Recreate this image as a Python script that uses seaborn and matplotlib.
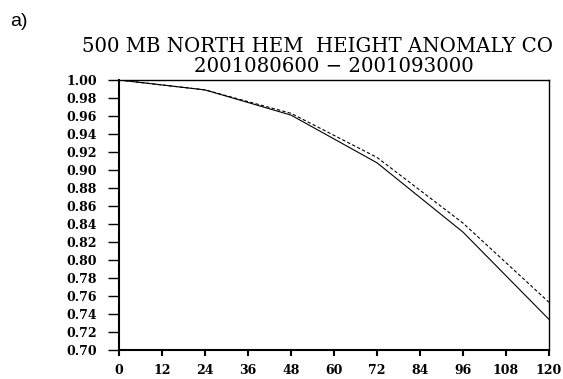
import pandas as pd
import matplotlib
matplotlib.use("Agg")
import matplotlib.pyplot as plt
import seaborn as sns

# forecast lead time (hours) and anomaly correlation values
lead_hours = [0, 24, 48, 72, 96, 120]
model_solid = [1.000, 0.989, 0.961, 0.908, 0.831, 0.734]
model_dashed = [1.000, 0.989, 0.963, 0.914, 0.841, 0.753]

x_ticks = list(range(0, 121, 12))
y_ticks = [0.70 + 0.02 * i for i in range(16)]

# the first title line is cut at the right edge in the original figure
title_line1 = "500 MB NORTH HEM  HEIGHT ANOMALY CO"
title_line2 = "2001080600 \u2212 2001093000"

df = pd.DataFrame({
    "lead": lead_hours * 2,
    "ac": model_solid + model_dashed,
    "run": ["solid"] * len(lead_hours) + ["dashed"] * len(lead_hours),
})

sns.set_style("white")
plt.rcParams["font.family"] = ["DejaVu Serif", "DejaVu Sans"]
plt.rcParams["text.color"] = "black"
plt.rcParams["xtick.color"] = "black"
plt.rcParams["ytick.color"] = "black"

fig = plt.figure(figsize=(5.63, 3.79), dpi=100)
ax = fig.add_axes([119 / 563, 1 - 350 / 379, 430 / 563, 270 / 379])

sns.lineplot(data=df, x="lead", y="ac", style="run",
             dashes={"solid": "", "dashed": (3, 2)},
             color="black", linewidth=0.8, legend=False, ax=ax)

ax.set_xlim(0, 120)
ax.set_ylim(0.70, 1.00)
ax.set_xticks(x_ticks)
ax.set_xticklabels([str(t) for t in x_ticks])
ax.set_yticks(y_ticks)
ax.set_yticklabels([f"{v:.2f}" for v in y_ticks])
ax.set_xlabel("")
ax.set_ylabel("")

for s in ax.spines.values():
    s.set_color("black")
    s.set_linewidth(1.0)
ax.spines["left"].set_linewidth(1.5)
ax.spines["bottom"].set_linewidth(1.5)

ax.tick_params(axis="y", direction="out", length=8, width=1.0, pad=8,
               left=True, labelsize=9, labelcolor="black")
ax.tick_params(axis="x", direction="out", length=4, width=1.5, pad=6,
               bottom=True, labelsize=9, labelcolor="black")
for lab in ax.get_xticklabels() + ax.get_yticklabels():
    lab.set_fontweight("bold")

cx = (119 + 549) / 2 / 563
fig.text(82 / 563, 1 - 46 / 379, title_line1, ha="left", va="center",
         fontsize=14.2, family="DejaVu Serif", color="black")
fig.text(cx, 1 - 66 / 379, title_line2, ha="center", va="center",
         fontsize=14.2, family="DejaVu Serif", color="black")
fig.text(10 / 563, 1 - 21 / 379, "a)", ha="left", va="center",
         fontsize=14, family="Liberation Sans", color="black")

fig.savefig("out.png", dpi=100)
